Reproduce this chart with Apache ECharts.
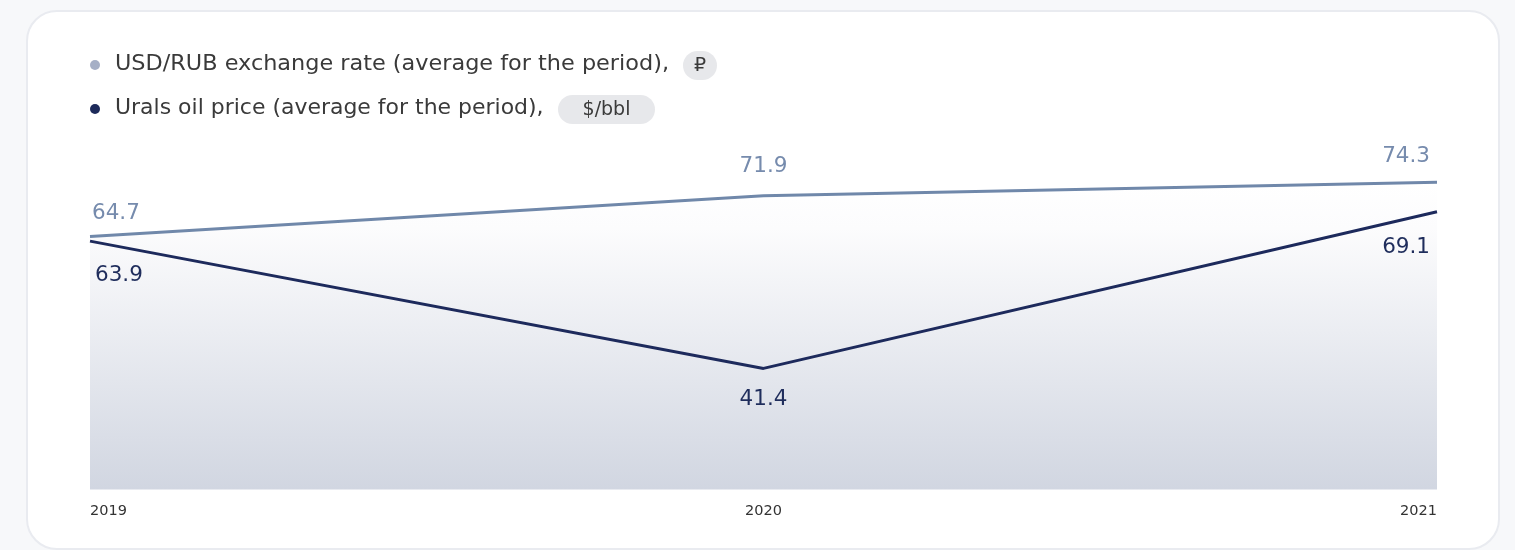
<!DOCTYPE html>
<html>
<head>
<meta charset="utf-8">
<script src="https://cdn.jsdelivr.net/npm/echarts@6/dist/echarts.min.js"></script>
<style>
html,body{margin:0;padding:0;background:#f7f8fa;}
#chart{width:1515px;height:550px;}
</style>
</head>
<body>
<div id="chart"></div>
<script>
const years = ['2019', '2020', '2021'];
const usdRub = [64.7, 71.9, 74.3];
const urals = [63.9, 41.4, 69.1];
const legendNames = ['USD/RUB exchange rate (average for the period),', 'Urals oil price (average for the period),'];
const legendUnits = ['₽', '$/bbl'];

const FONT = 'DejaVu Sans';
const chart = echarts.init(document.getElementById('chart'));

// label placement styling (not data)
const lightOffsets = [[2, 4], [0, -2], [-7, 1]];
const darkOffsets = [[5, 3], [0, 0], [-7, 5]];

function labelFor(i, n, pos, offsets) {
  const align = i === 0 ? 'left' : (i === n - 1 ? 'right' : 'center');
  return { show: true, position: pos, align: align, offset: offsets[i] };
}

const lightData = usdRub.map((v, i) => ({ value: v, label: labelFor(i, usdRub.length, 'top', lightOffsets) }));
const darkData = urals.map((v, i) => ({ value: v, label: labelFor(i, urals.length, 'bottom', darkOffsets) }));

const legendFont = '21px "DejaVu Sans"';
const option = {
  backgroundColor: '#f7f8fa',
  animation: false,
  textStyle: { fontFamily: FONT },
  graphic: [
    { type: 'rect', z: -10, shape: { x: 27, y: 11, width: 1472, height: 538, r: 30 },
      style: { fill: '#ffffff', stroke: '#e9ebf0', lineWidth: 2 } },
    { type: 'circle', shape: { cx: 95, cy: 65, r: 5 }, style: { fill: '#a5afc6' } },
    { type: 'text', x: 115, y: 65, scaleX: 1.065, style: { x: 0, y: 0, text: legendNames[0], font: legendFont, fill: '#3a3a3a', verticalAlign: 'middle' } },
    { type: 'rect', shape: { x: 683, y: 51, width: 34, height: 29, r: 14.5 }, style: { fill: '#e7e8eb' } },
    { type: 'text', style: { x: 700, y: 66, text: legendUnits[0], font: '19px "DejaVu Sans"', fill: '#3a3a3a', align: 'center', verticalAlign: 'middle' } },
    { type: 'circle', shape: { cx: 95, cy: 109, r: 5 }, style: { fill: '#1d2a5a' } },
    { type: 'text', x: 115, y: 109, scaleX: 1.046, style: { x: 0, y: 0, text: legendNames[1], font: legendFont, fill: '#3a3a3a', verticalAlign: 'middle' } },
    { type: 'rect', shape: { x: 558, y: 95, width: 97, height: 29, r: 14.5 }, style: { fill: '#e7e8eb' } },
    { type: 'text', style: { x: 606.5, y: 110, text: legendUnits[1], font: '19px "DejaVu Sans"', fill: '#3a3a3a', align: 'center', verticalAlign: 'middle' } }
  ],
  grid: { left: 90, right: 78, top: 150, bottom: 60.5, containLabel: false },
  xAxis: {
    type: 'category',
    data: years,
    boundaryGap: false,
    axisLine: { show: false },
    axisTick: { show: false },
    splitLine: { show: false },
    axisLabel: {
      color: '#333333', fontSize: 14.5, fontFamily: FONT, margin: 14,
      alignMinLabel: 'left', alignMaxLabel: 'right'
    }
  },
  yAxis: {
    type: 'value', min: 20, max: 80, show: false,
    splitLine: { show: false }
  },
  series: [
    {
      name: legendNames[0],
      type: 'line',
      data: lightData,
      symbol: 'circle',
      symbolSize: 2,
      showSymbol: true,
      itemStyle: { color: 'rgba(0,0,0,0)', borderWidth: 0 },
      lineStyle: { color: '#7088aa', width: 3 },
      areaStyle: {
        origin: 'start',
        opacity: 1,
        color: new echarts.graphic.LinearGradient(0, 0, 0, 1, [
          { offset: 0, color: '#ffffff' },
          { offset: 0.15, color: '#fcfcfd' },
          { offset: 1, color: '#d1d6e1' }
        ])
      },
      label: { show: true, color: '#768bad', fontSize: 21.5, fontFamily: FONT, distance: 15, opacity: 1 },
      emphasis: { disabled: true },
      z: 2
    },
    {
      name: legendNames[1],
      type: 'line',
      data: darkData,
      symbol: 'circle',
      symbolSize: 2,
      showSymbol: true,
      itemStyle: { color: 'rgba(0,0,0,0)', borderWidth: 0 },
      lineStyle: { color: '#1d2a5c', width: 3 },
      label: { show: true, color: '#1f2d5c', fontSize: 21.5, fontFamily: FONT, distance: 19, opacity: 1 },
      emphasis: { disabled: true },
      z: 3
    }
  ]
};
chart.setOption(option);
</script>
</body>
</html>
